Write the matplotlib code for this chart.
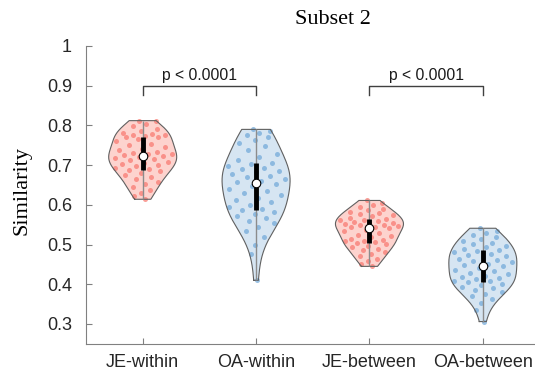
import numpy as np
import matplotlib
matplotlib.use("Agg")
import matplotlib.pyplot as plt

categories = ["JE-within", "OA-within", "JE-between", "OA-between"]

je_within = [0.812, 0.810, 0.803, 0.799, 0.790, 0.785, 0.781, 0.779, 0.777, 0.775,
             0.774, 0.772, 0.771, 0.766, 0.760, 0.754, 0.750, 0.746, 0.741, 0.737,
             0.734, 0.731, 0.729, 0.727, 0.725, 0.722, 0.720, 0.718, 0.715, 0.712,
             0.709, 0.706, 0.703, 0.700, 0.697, 0.694, 0.690, 0.687, 0.684, 0.679,
             0.674, 0.669, 0.664, 0.658, 0.652, 0.645, 0.637, 0.629, 0.621, 0.614]
oa_within = [0.790, 0.787, 0.782, 0.776, 0.770, 0.763, 0.755, 0.747, 0.738, 0.729,
             0.720, 0.712, 0.706, 0.702, 0.698, 0.694, 0.690, 0.686, 0.682, 0.678,
             0.673, 0.669, 0.665, 0.661, 0.658, 0.652, 0.647, 0.641, 0.636, 0.630,
             0.624, 0.618, 0.612, 0.606, 0.600, 0.595, 0.590, 0.586, 0.583, 0.578,
             0.572, 0.566, 0.560, 0.553, 0.545, 0.535, 0.520, 0.500, 0.475, 0.410]
je_between = [0.611, 0.605, 0.600, 0.594, 0.590, 0.586, 0.583, 0.580, 0.577, 0.574,
              0.571, 0.568, 0.565, 0.563, 0.561, 0.559, 0.557, 0.555, 0.553, 0.551,
              0.549, 0.548, 0.546, 0.545, 0.544, 0.541, 0.537, 0.533, 0.529, 0.525,
              0.521, 0.518, 0.515, 0.512, 0.510, 0.508, 0.506, 0.504, 0.501, 0.497,
              0.493, 0.489, 0.485, 0.480, 0.475, 0.470, 0.464, 0.458, 0.451, 0.445]
oa_between = [0.541, 0.535, 0.530, 0.525, 0.520, 0.515, 0.510, 0.505, 0.501, 0.497,
              0.494, 0.490, 0.486, 0.483, 0.480, 0.477, 0.474, 0.471, 0.468, 0.464,
              0.461, 0.458, 0.455, 0.452, 0.449, 0.445, 0.441, 0.437, 0.433, 0.429,
              0.425, 0.421, 0.418, 0.415, 0.412, 0.409, 0.407, 0.405, 0.401, 0.398,
              0.394, 0.390, 0.386, 0.381, 0.376, 0.370, 0.362, 0.352, 0.335, 0.306]
series = [je_within, oa_within, je_between, oa_between]

comparisons = [(1, 2, "p < 0.0001"), (3, 4, "p < 0.0001")]
yticks = [0.3, 0.4, 0.5, 0.6, 0.7, 0.8, 0.9, 1.0]
ytick_labels = ["0.3", "0.4", "0.5", "0.6", "0.7", "0.8", "0.9", "1"]

red_fill, red_pt = "#FDD3CE", "#F8766D"
blue_fill, blue_pt = "#D6E5F2", "#6FA7D8"
colors = [(red_fill, red_pt), (blue_fill, blue_pt), (red_fill, red_pt), (blue_fill, blue_pt)]

fig = plt.figure(figsize=(5.35, 3.74), dpi=100)
ax = fig.add_axes([86/535, 1-343.8/374, 449/535, (343.8-46)/374])

def kde(data, grid):
    d = np.asarray(data)
    n = len(d)
    bw = d.std(ddof=1) * (4/(3*n))**0.2
    z = (grid[:, None] - d[None, :]) / bw
    return np.exp(-0.5*z**2).sum(axis=1)

half_width = 0.30
phi = (np.sqrt(5) - 1) / 2
for i, (vals, (fc, pc)) in enumerate(zip(series, colors)):
    pos = i + 1
    v = np.asarray(vals)
    grid = np.linspace(v.min(), v.max(), 200)
    dens = kde(v, grid)
    dmax = dens.max()
    w = dens / dmax * half_width
    xs = np.concatenate([pos - w, (pos + w)[::-1], [pos - w[0]]])
    ys = np.concatenate([grid, grid[::-1], [grid[0]]])
    ax.fill(xs, ys, color=fc, zorder=1, lw=0)
    # deterministic jitter
    k = np.arange(len(v))
    jit = 2 * ((k * phi + 0.37) % 1.0) - 1
    strength = kde(v, v) / dmax * half_width * 0.92
    ax.scatter(pos + jit * strength, v, s=13, color=pc, alpha=0.7, lw=0, zorder=2)
    ax.plot(xs, ys, color="#606060", lw=0.8, zorder=3)
    ax.vlines(pos, v.min(), v.max(), color="#8c8c8c", lw=1.0, zorder=3)
    q1, med, q3 = np.percentile(v, [25, 50, 75])
    ax.vlines(pos, q1, q3, color="black", lw=3.5, zorder=4)
    ax.scatter([pos], [med], s=38, facecolor="white", edgecolor="black", lw=0.8, zorder=5)

for a, b, label in comparisons:
    ax.plot([a, a, b, b], [0.877, 0.9, 0.9, 0.877], color="#404040", lw=1.0, zorder=3)
    ax.text((a + b) / 2, 0.908, label, ha="center", va="bottom", fontsize=11.3,
            family="Liberation Sans", color="#1a1a1a")

ax.set_xlim(0.5, 4.46)
ax.set_ylim(0.25, 1.0)
ax.set_xticks([1, 2, 3, 4])
ax.set_xticklabels(categories)
ax.set_yticks(yticks)
ax.set_yticklabels(ytick_labels)
for s in ["top", "right"]:
    ax.spines[s].set_visible(False)
for s in ["left", "bottom"]:
    ax.spines[s].set_color("#808080")
    ax.spines[s].set_linewidth(0.8)
ax.tick_params(direction="in", length=4, width=0.8, color="#808080",
               labelcolor="#262626", labelsize=13)
ax.tick_params(axis="y", pad=10)
ax.tick_params(axis="x", pad=7)
for lab in ax.get_xticklabels() + ax.get_yticklabels():
    lab.set_family("Liberation Sans")

ax.set_ylabel("Similarity", family="Liberation Serif", fontsize=16, color="black")
ax.yaxis.set_label_coords(-0.121, 0.515)
fig.text(333/535, 1-19/374, "Subset 2", family="Liberation Serif", fontsize=16,
         ha="center", va="center")

fig.savefig("out.png", dpi=100)
